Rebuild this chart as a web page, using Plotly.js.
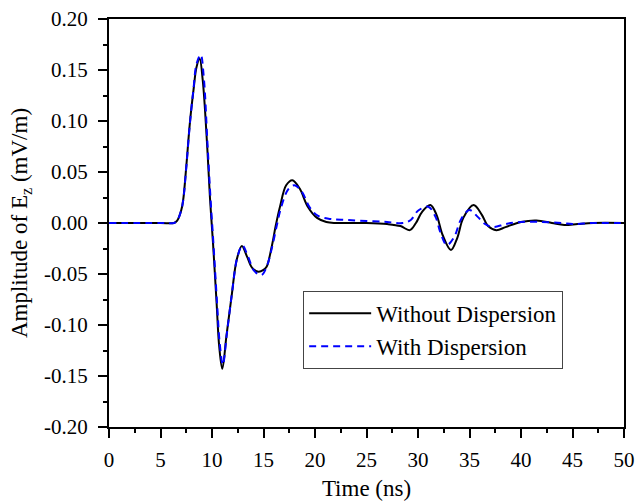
<!DOCTYPE html>
<html>
<head>
<meta charset="utf-8">
<script src="https://cdn.plot.ly/plotly-3.0.1.min.js"></script>
<style>html,body{margin:0;padding:0;background:#fff;}#chart{width:636px;height:504px;}</style>
</head>
<body>
<div id="chart"></div>
<script>
// Without Dispersion (black, solid)
var tWithout = [0, 5, 6.3, 6.6, 7.0, 7.2, 7.5, 7.85, 8.2, 8.5, 8.8, 9.1, 9.5, 9.8, 10.1, 10.45, 10.7, 11.0, 11.4, 11.9, 12.4, 12.9, 13.4, 13.9, 14.5, 15.0, 15.3, 15.8, 16.2, 16.6, 17.2, 17.8, 18.5, 19.3, 20.2, 21.1, 22, 25, 27, 28.3, 29.2, 29.8, 30.4, 31.2, 31.8, 32.4, 33.2, 33.8, 34.4, 35.4, 36.2, 36.8, 37.6, 38.5, 40, 41.5, 43, 44.2, 45.5, 47, 50];
var vWithout = [0, 0, 0, 0.002, 0.012, 0.0225, 0.055, 0.098, 0.130, 0.153, 0.161, 0.140, 0.081, 0.025, -0.020, -0.079, -0.121, -0.143, -0.111, -0.072, -0.036, -0.0225, -0.033, -0.044, -0.0477, -0.046, -0.043, -0.023, -0.002, 0.016, 0.037, 0.042, 0.034, 0.016, 0.005, 0.001, 0, 0, -0.001, -0.003, -0.007, 0, 0.011, 0.0176, 0.008, -0.012, -0.0265, -0.015, 0.005, 0.0176, 0.008, -0.003, -0.007, -0.004, 0.001, 0.0025, 0, -0.002, -0.001, 0, 0];
// With Dispersion (blue, dashed)
var tWith = [0, 5, 6.3, 6.6, 7.0, 7.2, 7.5, 7.85, 8.2, 8.5, 8.9, 9.2, 9.55, 9.85, 10.15, 10.5, 10.75, 11.05, 11.45, 11.95, 12.45, 12.95, 13.5, 14.1, 14.8, 15.3, 15.8, 16.3, 16.7, 17.4, 18.0, 18.7, 19.5, 20.3, 21.5, 23, 25, 27, 28.5, 29.3, 30.0, 31.0, 31.7, 32.2, 32.8, 33.5, 34.2, 35.0, 35.8, 36.5, 37.3, 38.5, 40, 42, 44, 45, 47, 50];
var vWith = [0, 0, 0, 0.002, 0.012, 0.022, 0.054, 0.097, 0.131, 0.156, 0.165, 0.143, 0.080, 0.025, -0.022, -0.080, -0.118, -0.139, -0.108, -0.068, -0.034, -0.022, -0.033, -0.047, -0.051, -0.043, -0.025, -0.002, 0.015, 0.033, 0.037, 0.031, 0.015, 0.007, 0.004, 0.003, 0.002, 0.001, 0, 0.003, 0.012, 0.016, 0.006, -0.010, -0.0216, -0.014, 0.004, 0.0127, 0.006, -0.001, -0.004, -0.001, 0.001, 0.001, 0, -0.001, 0, 0];
var seriesNames = ["Without Dispersion", "With Dispersion"];
// Y tick labels (hyphen minus as in the original)
var yTickVals = [-0.20, -0.15, -0.10, -0.05, 0.00, 0.05, 0.10, 0.15, 0.20];
var yTickText = ["-0.20", "-0.15", "-0.10", "-0.05", "0.00", "0.05", "0.10", "0.15", "0.20"];

var fam = "Liberation Serif, Times New Roman, serif";

var traces = [
  {x: tWithout, y: vWithout, name: seriesNames[0], type: "scatter", mode: "lines",
   line: {color: "#000000", width: 2, shape: "spline", smoothing: 1}},
  {x: tWith, y: vWith, name: seriesNames[1], type: "scatter", mode: "lines",
   line: {color: "#0000ff", width: 2, dash: "7px,5px", shape: "spline", smoothing: 1}}
];

var axisCommon = {
  showgrid: false, zeroline: false, showline: true, linecolor: "#000", linewidth: 2,
  mirror: true, ticks: "outside", ticklen: 9, tickwidth: 2, tickcolor: "#000",
  tickfont: {family: fam, size: 21, color: "#000"}
};

var layout = {
  width: 636, height: 504,
  margin: {l: 109, r: 12, t: 19, b: 77},
  paper_bgcolor: "#fff", plot_bgcolor: "#fff",
  font: {family: fam, size: 21, color: "#000"},
  showlegend: true,
  legend: {x: 0.377, y: 0.238, xanchor: "left", yanchor: "middle",
           bordercolor: "#444", borderwidth: 1, bgcolor: "#fff",
           itemwidth: 62,
           font: {family: fam, size: 23, color: "#000"}},
  xaxis: Object.assign({}, axisCommon, {
    range: [0, 50], dtick: 5, tick0: 0, ticklabelstandoff: 4,
    minor: {dtick: 2.5, ticks: "outside", ticklen: 4, tickwidth: 2, tickcolor: "#000"},
    title: {text: "Time (ns)", font: {family: fam, size: 23, color: "#000"}, standoff: 9}
  }),
  yaxis: Object.assign({}, axisCommon, {
    range: [-0.2, 0.2], tickmode: "array", tickvals: yTickVals, ticktext: yTickText, ticklabelstandoff: 6,
    minor: {tickmode: "linear", tick0: 0, dtick: 0.025, ticks: "outside", ticklen: 4, tickwidth: 2, tickcolor: "#000"},
    title: {text: "Amplitude of E<sub>z</sub> (mV/m)", font: {family: fam, size: 23, color: "#000"}, standoff: 10}
  })
};

Plotly.newPlot("chart", traces, layout, {staticPlot: true, displayModeBar: false});
</script>
</body>
</html>
